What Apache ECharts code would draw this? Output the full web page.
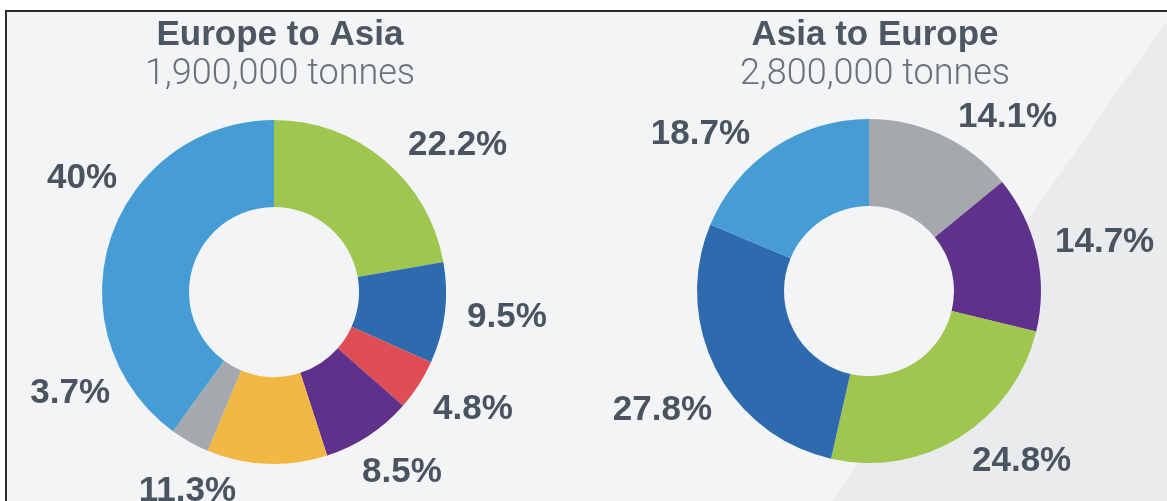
<!DOCTYPE html>
<html>
<head>
<meta charset="utf-8">
<script src="https://cdn.jsdelivr.net/npm/echarts@6/dist/echarts.min.js"></script>
<style>
  html, body { margin: 0; padding: 0; background: #ffffff; }
  #main { width: 1167px; height: 501px; }
</style>
</head>
<body>
<div id="main"></div>
<script>
// Europe to Asia (clockwise from 12 o'clock)
const leftTitle = 'Europe to Asia';
const leftTotal = '1,900,000 tonnes';
const leftNames = ['Green', 'Dark blue', 'Red', 'Purple', 'Yellow', 'Grey', 'Light blue'];
const leftValues = [22.2, 9.5, 4.8, 8.5, 11.3, 3.7, 40];

// Asia to Europe (clockwise from 12 o'clock)
const rightTitle = 'Asia to Europe';
const rightTotal = '2,800,000 tonnes';
const rightNames = ['Grey', 'Purple', 'Green', 'Dark blue', 'Light blue'];
const rightValues = [14.1, 14.7, 24.8, 27.8, 18.7];

// colours per slice
const palette = {
  'Light blue': '#469dd6',
  'Green': '#9fc64f',
  'Dark blue': '#2d6aae',
  'Red': '#e04e55',
  'Purple': '#60318a',
  'Yellow': '#f2b844',
  'Grey': '#a5a8ac'
};

// label placement (text anchor, middle of the line)
const leftLabelX = [408, 467, 433, 362, 236, 110, 117];
const leftLabelY = [145, 317, 409, 472, 491, 393, 178];
const leftLabelAlign = ['left', 'left', 'left', 'left', 'right', 'right', 'right'];
const rightLabelX = [958, 1055, 972, 712, 750];
const rightLabelY = [117, 242, 461, 410, 134];
const rightLabelAlign = ['left', 'left', 'left', 'right', 'right'];

const textColor = '#4a5461';
const numFont = '"Liberation Sans", Arial, sans-serif';

function donut(center, names, values, lx, ly, la) {
  return {
    type: 'pie',
    center: center,
    radius: [85, 172],
    startAngle: 90,
    clockwise: true,
    avoidLabelOverlap: false,
    silent: true,
    label: {
      show: true,
      position: 'outside',
      formatter: '{c}%',
      fontFamily: numFont,
      fontSize: 35,
      fontWeight: 'bold',
      color: textColor
    },
    labelLine: { show: false },
    labelLayout: p => ({
      x: lx[p.dataIndex],
      y: ly[p.dataIndex],
      align: la[p.dataIndex],
      verticalAlign: 'middle'
    }),
    itemStyle: { borderWidth: 0 },
    data: values.map((v, i) => ({
      name: names[i],
      value: v,
      itemStyle: { color: palette[names[i]] }
    }))
  };
}

function heading(x, text, sub) {
  return {
    text: text,
    subtext: sub,
    left: x,
    top: 13,
    textAlign: 'center',
    itemGap: 4,
    textStyle: {
      fontFamily: numFont,
      fontSize: 35,
      fontWeight: 'bold',
      color: '#4d5764'
    },
    subtextStyle: {
      fontFamily: 'Roboto, "Liberation Sans", sans-serif',
      fontSize: 36,
      fontWeight: 300,
      color: '#6c7177'
    }
  };
}

const chart = echarts.init(document.getElementById('main'));
chart.setOption({
  animation: false,
  backgroundColor: '#ffffff',
  graphic: [
    { type: 'rect', z: -100, silent: true,
      shape: { x: 6, y: 11, width: 1161, height: 490 },
      style: { fill: '#f3f4f5' } },
    { type: 'polygon', z: -99, silent: true,
      shape: { points: [[1163, 26], [1167, 22], [1167, 501], [832, 501]] },
      style: { fill: '#eaebed' } },
    { type: 'polyline', z: -98, silent: true,
      shape: { points: [[6, 501], [6, 11], [1167, 11]] },
      style: { stroke: '#2a2a2a', lineWidth: 2, fill: null } }
  ],
  title: [
    heading(275, leftTitle, leftTotal),
    heading(870, rightTitle, rightTotal)
  ],
  series: [
    donut([274, 292], leftNames, leftValues, leftLabelX, leftLabelY, leftLabelAlign),
    donut([869, 291], rightNames, rightValues, rightLabelX, rightLabelY, rightLabelAlign)
  ]
});
</script>
</body>
</html>
